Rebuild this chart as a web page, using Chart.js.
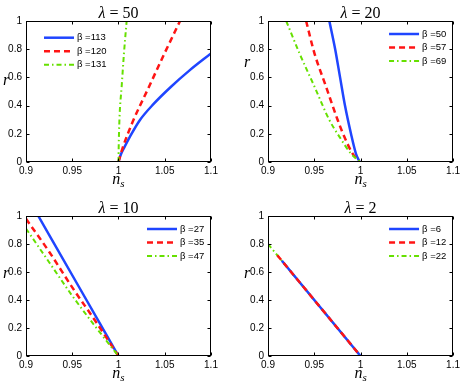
<!DOCTYPE html>
<html>
<head>
<meta charset="utf-8">
<script src="https://cdn.jsdelivr.net/npm/chart.js@4.4.0/dist/chart.umd.min.js"></script>
<style>
  body{margin:0;background:#fff;}
  #wrap{position:relative;width:463px;height:386px;}
  canvas{position:absolute;}
</style>
</head>
<body>
<div id="wrap">
  <canvas id="c50" width="232" height="193" style="left:0;top:0"></canvas>
  <canvas id="c20" width="231" height="193" style="left:232px;top:0"></canvas>
  <canvas id="c10" width="232" height="193" style="left:0;top:193px"></canvas>
  <canvas id="c2" width="231" height="193" style="left:232px;top:193px"></canvas>
</div>
<script>
'use strict';
// tick values shared by all panels
const nsTicks=[0.9,0.95,1,1.05,1.1];
const rTicks=[0,0.2,0.4,0.6,0.8,1];

// lambda = 50
const betas50=[113,120,131];
const ns50_b113=[1.0,1.001,1.003,1.006,1.0124,1.0232,1.0377,1.0565,1.0765,1.1];
const r50_b113=[0,0.025,0.06,0.1,0.18,0.298,0.41,0.532,0.648,0.77];
const ns50_b120=[1.0,1.004,1.015,1.032,1.049,1.0665];
const r50_b120=[0,0.09,0.28,0.52,0.76,1.0];
const ns50_b131=[1.0,1.0002,1.001,1.0034,1.0059,1.0088];
const r50_b131=[0,0.1,0.3,0.534,0.77,1.0];

// lambda = 20
const betas20=[50,57,69];
const ns20_b50=[0.9663,0.9726,0.9779,0.9832,0.9897,0.995,0.999];
const r20_b50=[1,0.8,0.6,0.4,0.2,0.06,0];
const ns20_b57=[0.9412,0.9502,0.9627,0.9753,0.9824,0.9914,0.999];
const r20_b57=[1,0.771,0.535,0.298,0.18,0.06,0];
const ns20_b69=[0.9197,0.934,0.9502,0.9663,0.9771,0.9896,1.0];
const r20_b69=[1,0.771,0.535,0.298,0.18,0.06,0];

// lambda = 10
const betas10=[27,35,47];
const ns10_b27=[0.9133,0.9567,1.0];
const r10_b27=[1,0.5,0];
const ns10_b35=[0.9,0.925,0.95,0.975,1.0];
const r10_b35=[0.98,0.745,0.49,0.25,0];
const ns10_b47=[0.9,0.925,0.95,0.975,1.0];
const r10_b47=[0.91,0.67,0.43,0.21,0];

// lambda = 2
const betas2=[6,12,22];
const ns2_b6=[0.915,1.0];
const r2_b6=[0.68,0];
const ns2_b12=[0.91,1.0];
const r2_b12=[0.72,0];
const ns2_b22=[0.9,1.0];
const r2_b22=[0.8,0];

const blue='#1f45ff', red='#ff1414', green='#66e000';
const lineStyles=[
  {borderColor:blue,borderWidth:2.5,borderDash:[]},
  {borderColor:red,borderWidth:2.5,borderDash:[6,4]},
  {borderColor:green,borderWidth:2,borderDash:[5,3,1.5,3]}
];

// matlab style box, inward ticks, labels and legend
const frame={
  id:'frame',
  afterDraw(chart,args,o){
    const ctx=chart.ctx, a=chart.chartArea;
    const sx=chart.scales.x, sy=chart.scales.y;
    ctx.save();
    const L=Math.round(a.left)+0.5, R=Math.round(a.right)-0.5;
    const T=Math.round(a.top)+0.5, B=Math.round(a.bottom)-0.5;
    ctx.strokeStyle='#000';
    ctx.lineWidth=1;
    ctx.setLineDash([]);
    ctx.strokeRect(L,T,R-L,B-T);
    ctx.beginPath();
    sx.ticks.forEach(t=>{
      const px=Math.round(sx.getPixelForValue(t.value))+0.5;
      ctx.moveTo(px,B);ctx.lineTo(px,B-3);
      ctx.moveTo(px,T);ctx.lineTo(px,T+3);
    });
    sy.ticks.forEach(t=>{
      const py=Math.round(sy.getPixelForValue(t.value))+0.5;
      ctx.moveTo(L,py);ctx.lineTo(L+3,py);
      ctx.moveTo(R,py);ctx.lineTo(R-3,py);
    });
    ctx.stroke();

    ctx.fillStyle='#000';
    ctx.textBaseline='alphabetic';
    const cx=(a.left+a.right)/2;
    // title
    ctx.font='italic 16px "Liberation Serif"';
    const w1=ctx.measureText('λ').width;
    ctx.font='16px "Liberation Serif"';
    const rest=' = '+o.lambda;
    const w2=ctx.measureText(rest).width;
    let tx=cx-(w1+w2)/2;
    ctx.font='italic 16px "Liberation Serif"';
    ctx.fillText('λ',tx,a.top-3);
    ctx.font='16px "Liberation Serif"';
    ctx.fillText(rest,tx+w1,a.top-3);
    // x label n_s
    ctx.font='italic 16px "Liberation Serif"';
    const wn=ctx.measureText('n').width;
    ctx.font='italic 11px "Liberation Serif"';
    const ws=ctx.measureText('s').width;
    tx=cx-(wn+ws)/2;
    ctx.font='italic 16px "Liberation Serif"';
    ctx.fillText('n',tx,a.bottom+22);
    ctx.font='italic 11px "Liberation Serif"';
    ctx.fillText('s',tx+wn,a.bottom+25);
    // y label r
    ctx.font='italic 16px "Liberation Serif"';
    ctx.textAlign='center';
    ctx.fillText('r',o.rx,a.top+o.ry);
    ctx.textAlign='left';

    // legend
    ctx.font='9.5px "Liberation Sans"';
    ctx.textBaseline='middle';
    chart.data.datasets.forEach((d,i)=>{
      const y=a.top+o.legTop+i*13.5;
      const x0=o.legSide==='left'?a.left+18:a.right-64;
      ctx.beginPath();
      ctx.strokeStyle=d.borderColor;
      ctx.lineWidth=d.borderWidth;
      ctx.setLineDash(d.borderDash);
      ctx.moveTo(x0,y);ctx.lineTo(x0+30,y);
      ctx.stroke();
      ctx.fillStyle='#000';
      ctx.fillText(d.label,x0+33,y);
    });
    ctx.restore();
  }
};

function makeChart(id,lambda,betas,curves,cfg){
  const datasets=curves.map((c,i)=>Object.assign({
    label:'β ='+betas[i],
    data:c[0].map((v,k)=>({x:v,y:c[1][k]})),
    pointRadius:0,
    cubicInterpolationMode:'monotone',
    fill:false,
    order:cfg.order[i]
  },lineStyles[i]));
  const tickFont={family:'Liberation Sans',size:10};
  return new Chart(document.getElementById(id),{
    type:'line',
    data:{datasets:datasets},
    options:{
      responsive:false,
      animation:false,
      layout:{padding:{top:cfg.top,right:cfg.right,left:0,bottom:0}},
      plugins:{
        legend:{display:false},
        tooltip:{enabled:false},
        frame:{lambda:lambda,rx:cfg.rx,ry:cfg.ry,legSide:cfg.legSide,legTop:cfg.legTop}
      },
      scales:{
        x:{
          type:'linear',min:nsTicks[0],max:nsTicks[nsTicks.length-1],
          afterFit(s){s.height=cfg.xh;},
          afterBuildTicks(s){s.ticks=nsTicks.map(v=>({value:v}));},
          grid:{display:false,drawTicks:false},
          border:{display:false},
          ticks:{padding:3,color:'#000',font:tickFont,maxRotation:0,autoSkip:false,
            callback:v=>String(+v.toFixed(2))}
        },
        y:{
          type:'linear',min:rTicks[0],max:rTicks[rTicks.length-1],
          afterFit(s){s.width=cfg.yw;},
          afterBuildTicks(s){s.ticks=rTicks.map(v=>({value:v}));},
          grid:{display:false,drawTicks:false},
          border:{display:false},
          ticks:{padding:4,color:'#000',font:tickFont,
            callback:v=>String(+v.toFixed(1))}
        }
      }
    },
    plugins:[frame]
  });
}

makeChart('c50',50,betas50,
  [[ns50_b113,r50_b113],[ns50_b120,r50_b120],[ns50_b131,r50_b131]],
  {top:21,right:21,yw:26,xh:31,rx:6,ry:64,legSide:'left',legTop:16.7,order:[3,2,1]});
makeChart('c20',20,betas20,
  [[ns20_b50,r20_b50],[ns20_b57,r20_b57],[ns20_b69,r20_b69]],
  {top:21,right:9,yw:36,xh:31,rx:15,ry:46,legSide:'right',legTop:13,order:[3,2,1]});
makeChart('c10',10,betas10,
  [[ns10_b27,r10_b27],[ns10_b35,r10_b35],[ns10_b47,r10_b47]],
  {top:23,right:21,yw:26,xh:30,rx:6,ry:62,legSide:'right',legTop:13,order:[3,2,1]});
makeChart('c2',2,betas2,
  [[ns2_b6,r2_b6],[ns2_b12,r2_b12],[ns2_b22,r2_b22]],
  {top:23,right:9,yw:36,xh:30,rx:15,ry:62,legSide:'right',legTop:13,order:[2,1,3]});
</script>
</body>
</html>
